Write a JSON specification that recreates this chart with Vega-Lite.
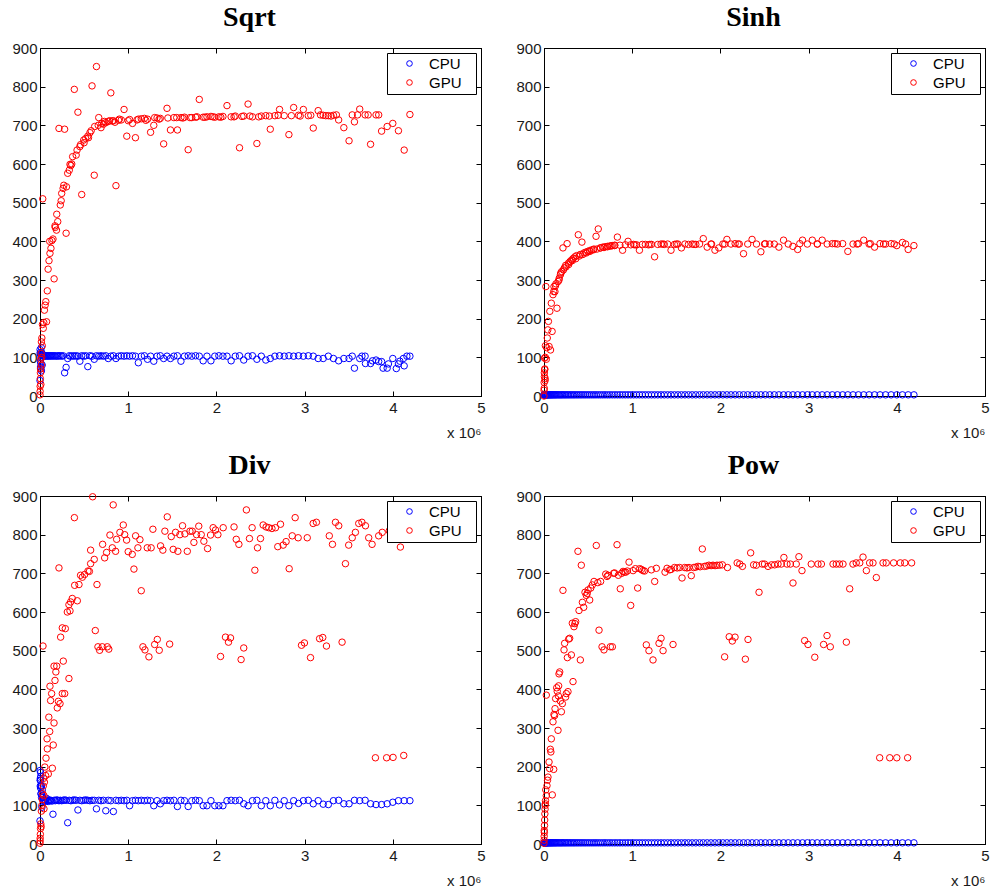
{
"$schema": "https://vega.github.io/schema/vega-lite/v6.json",
"padding": {"left": 11, "top": 3, "right": 5, "bottom": 5},
"bounds": "flush",
"columns": 2,
"spacing": {"row": 100, "column": 63},
"datasets": {
"flat": [{"x":0.000,"y":3},{"x":0.001,"y":3},{"x":0.002,"y":3},{"x":0.004,"y":3},{"x":0.006,"y":3},{"x":0.009,"y":3},{"x":0.013,"y":3},{"x":0.016,"y":3},{"x":0.021,"y":3},{"x":0.026,"y":3},{"x":0.031,"y":3},{"x":0.037,"y":3},{"x":0.043,"y":3},{"x":0.050,"y":3},{"x":0.058,"y":3},{"x":0.066,"y":3},{"x":0.074,"y":3},{"x":0.083,"y":3},{"x":0.092,"y":3},{"x":0.102,"y":3},{"x":0.113,"y":3},{"x":0.124,"y":3},{"x":0.135,"y":3},{"x":0.147,"y":3},{"x":0.160,"y":3},{"x":0.173,"y":3},{"x":0.187,"y":3},{"x":0.201,"y":3},{"x":0.215,"y":3},{"x":0.230,"y":3},{"x":0.246,"y":3},{"x":0.262,"y":3},{"x":0.279,"y":3},{"x":0.296,"y":3},{"x":0.314,"y":3},{"x":0.332,"y":3},{"x":0.350,"y":3},{"x":0.370,"y":3},{"x":0.389,"y":3},{"x":0.410,"y":3},{"x":0.430,"y":3},{"x":0.452,"y":3},{"x":0.473,"y":3},{"x":0.496,"y":3},{"x":0.518,"y":3},{"x":0.542,"y":3},{"x":0.566,"y":3},{"x":0.590,"y":3},{"x":0.615,"y":3},{"x":0.640,"y":3},{"x":0.666,"y":3},{"x":0.692,"y":3},{"x":0.719,"y":3},{"x":0.746,"y":3},{"x":0.774,"y":3},{"x":0.803,"y":3},{"x":0.832,"y":3},{"x":0.861,"y":3},{"x":0.891,"y":3},{"x":0.922,"y":3},{"x":0.953,"y":3},{"x":0.984,"y":3},{"x":1.016,"y":3},{"x":1.049,"y":3},{"x":1.082,"y":3},{"x":1.115,"y":3},{"x":1.149,"y":3},{"x":1.184,"y":3},{"x":1.219,"y":3},{"x":1.254,"y":3},{"x":1.290,"y":3},{"x":1.327,"y":3},{"x":1.364,"y":3},{"x":1.402,"y":3},{"x":1.440,"y":3},{"x":1.479,"y":3},{"x":1.518,"y":3},{"x":1.558,"y":3},{"x":1.598,"y":3},{"x":1.638,"y":3},{"x":1.680,"y":3},{"x":1.721,"y":3},{"x":1.764,"y":3},{"x":1.806,"y":3},{"x":1.850,"y":3},{"x":1.893,"y":3},{"x":1.938,"y":3},{"x":1.982,"y":3},{"x":2.028,"y":3},{"x":2.074,"y":3},{"x":2.120,"y":3},{"x":2.167,"y":3},{"x":2.214,"y":3},{"x":2.262,"y":3},{"x":2.310,"y":3},{"x":2.359,"y":3},{"x":2.409,"y":3},{"x":2.459,"y":3},{"x":2.509,"y":3},{"x":2.560,"y":3},{"x":2.611,"y":3},{"x":2.663,"y":3},{"x":2.716,"y":3},{"x":2.769,"y":3},{"x":2.822,"y":3},{"x":2.876,"y":3},{"x":2.931,"y":3},{"x":2.986,"y":3},{"x":3.042,"y":3},{"x":3.098,"y":3},{"x":3.154,"y":3},{"x":3.211,"y":3},{"x":3.269,"y":3},{"x":3.327,"y":3},{"x":3.386,"y":3},{"x":3.445,"y":3},{"x":3.504,"y":3},{"x":3.565,"y":3},{"x":3.625,"y":3},{"x":3.686,"y":3},{"x":3.748,"y":3},{"x":3.810,"y":3},{"x":3.873,"y":3},{"x":3.936,"y":3},{"x":4.000,"y":3},{"x":4.064,"y":3},{"x":4.129,"y":3},{"x":4.194,"y":3}],
"sqC": [{"x":0.000,"y":40},{"x":0.001,"y":120},{"x":0.002,"y":112},{"x":0.004,"y":108},{"x":0.006,"y":75},{"x":0.009,"y":85},{"x":0.013,"y":100},{"x":0.016,"y":65},{"x":0.021,"y":110},{"x":0.026,"y":106},{"x":0.031,"y":104},{"x":0.037,"y":105},{"x":0.043,"y":104},{"x":0.050,"y":103},{"x":0.058,"y":104},{"x":0.066,"y":104},{"x":0.074,"y":103},{"x":0.083,"y":104},{"x":0.092,"y":104},{"x":0.102,"y":103},{"x":0.113,"y":104},{"x":0.124,"y":104},{"x":0.135,"y":103},{"x":0.147,"y":104},{"x":0.160,"y":104},{"x":0.173,"y":103},{"x":0.187,"y":104},{"x":0.201,"y":103},{"x":0.215,"y":104},{"x":0.230,"y":104},{"x":0.246,"y":103},{"x":0.262,"y":104},{"x":0.279,"y":60},{"x":0.296,"y":74},{"x":0.314,"y":97},{"x":0.332,"y":104},{"x":0.350,"y":103},{"x":0.370,"y":104},{"x":0.389,"y":103},{"x":0.410,"y":104},{"x":0.430,"y":103},{"x":0.452,"y":90},{"x":0.473,"y":104},{"x":0.496,"y":103},{"x":0.518,"y":104},{"x":0.542,"y":76},{"x":0.566,"y":104},{"x":0.590,"y":103},{"x":0.615,"y":95},{"x":0.640,"y":104},{"x":0.666,"y":103},{"x":0.692,"y":104},{"x":0.719,"y":103},{"x":0.746,"y":104},{"x":0.774,"y":97},{"x":0.803,"y":103},{"x":0.832,"y":104},{"x":0.861,"y":97},{"x":0.891,"y":103},{"x":0.922,"y":104},{"x":0.953,"y":103},{"x":0.984,"y":104},{"x":1.016,"y":103},{"x":1.049,"y":104},{"x":1.082,"y":103},{"x":1.115,"y":86},{"x":1.149,"y":103},{"x":1.184,"y":104},{"x":1.219,"y":95},{"x":1.254,"y":103},{"x":1.290,"y":90},{"x":1.327,"y":103},{"x":1.364,"y":104},{"x":1.402,"y":97},{"x":1.440,"y":103},{"x":1.479,"y":97},{"x":1.518,"y":103},{"x":1.558,"y":104},{"x":1.598,"y":90},{"x":1.638,"y":103},{"x":1.680,"y":104},{"x":1.721,"y":103},{"x":1.764,"y":104},{"x":1.806,"y":103},{"x":1.850,"y":91},{"x":1.893,"y":103},{"x":1.938,"y":91},{"x":1.982,"y":103},{"x":2.028,"y":104},{"x":2.074,"y":103},{"x":2.120,"y":103},{"x":2.167,"y":91},{"x":2.214,"y":103},{"x":2.262,"y":104},{"x":2.310,"y":93},{"x":2.359,"y":103},{"x":2.409,"y":104},{"x":2.459,"y":95},{"x":2.509,"y":103},{"x":2.560,"y":93},{"x":2.611,"y":97},{"x":2.663,"y":103},{"x":2.716,"y":104},{"x":2.769,"y":103},{"x":2.822,"y":104},{"x":2.876,"y":103},{"x":2.931,"y":104},{"x":2.986,"y":103},{"x":3.042,"y":104},{"x":3.098,"y":103},{"x":3.154,"y":97},{"x":3.211,"y":97},{"x":3.269,"y":103},{"x":3.327,"y":97},{"x":3.386,"y":91},{"x":3.445,"y":97},{"x":3.504,"y":97},{"x":3.565,"y":72},{"x":3.625,"y":97},{"x":3.686,"y":103},{"x":3.748,"y":84},{"x":3.810,"y":93},{"x":3.873,"y":89},{"x":3.936,"y":72},{"x":4.000,"y":97},{"x":4.064,"y":83},{"x":4.129,"y":78},{"x":4.194,"y":103},{"x":3.540,"y":103},{"x":3.650,"y":103},{"x":3.690,"y":84},{"x":3.770,"y":91},{"x":3.840,"y":89},{"x":3.890,"y":72},{"x":3.950,"y":83},{"x":4.040,"y":71},{"x":4.080,"y":90},{"x":4.120,"y":97},{"x":4.160,"y":103},{"x":0.005,"y":90},{"x":0.010,"y":70},{"x":0.015,"y":125},{"x":0.020,"y":112},{"x":0.025,"y":80}],
"sqG": [{"x":0.000,"y":3},{"x":0.001,"y":12},{"x":0.002,"y":25},{"x":0.004,"y":45},{"x":0.006,"y":70},{"x":0.009,"y":95},{"x":0.013,"y":110},{"x":0.016,"y":140},{"x":0.021,"y":150},{"x":0.026,"y":130},{"x":0.031,"y":510},{"x":0.037,"y":175},{"x":0.043,"y":190},{"x":0.050,"y":222},{"x":0.058,"y":235},{"x":0.066,"y":244},{"x":0.074,"y":192},{"x":0.083,"y":272},{"x":0.092,"y":328},{"x":0.102,"y":350},{"x":0.113,"y":369},{"x":0.124,"y":382},{"x":0.135,"y":402},{"x":0.147,"y":406},{"x":0.160,"y":303},{"x":0.173,"y":436},{"x":0.187,"y":429},{"x":0.201,"y":451},{"x":0.215,"y":692},{"x":0.230,"y":494},{"x":0.246,"y":524},{"x":0.262,"y":537},{"x":0.279,"y":690},{"x":0.296,"y":421},{"x":0.314,"y":576},{"x":0.332,"y":584},{"x":0.350,"y":596},{"x":0.370,"y":619},{"x":0.389,"y":793},{"x":0.410,"y":623},{"x":0.430,"y":734},{"x":0.452,"y":645},{"x":0.473,"y":521},{"x":0.496,"y":662},{"x":0.518,"y":666},{"x":0.542,"y":672},{"x":0.566,"y":681},{"x":0.590,"y":802},{"x":0.615,"y":571},{"x":0.640,"y":852},{"x":0.666,"y":720},{"x":0.692,"y":694},{"x":0.719,"y":703},{"x":0.746,"y":707},{"x":0.774,"y":710},{"x":0.803,"y":784},{"x":0.832,"y":712},{"x":0.861,"y":544},{"x":0.891,"y":713},{"x":0.922,"y":714},{"x":0.953,"y":741},{"x":0.984,"y":672},{"x":1.016,"y":715},{"x":1.049,"y":705},{"x":1.082,"y":668},{"x":1.115,"y":716},{"x":1.149,"y":717},{"x":1.184,"y":718},{"x":1.219,"y":716},{"x":1.254,"y":682},{"x":1.290,"y":700},{"x":1.327,"y":719},{"x":1.364,"y":718},{"x":1.402,"y":652},{"x":1.440,"y":744},{"x":1.479,"y":688},{"x":1.518,"y":720},{"x":1.558,"y":688},{"x":1.598,"y":720},{"x":1.638,"y":721},{"x":1.680,"y":637},{"x":1.721,"y":720},{"x":1.764,"y":721},{"x":1.806,"y":767},{"x":1.850,"y":721},{"x":1.893,"y":722},{"x":1.938,"y":723},{"x":1.982,"y":721},{"x":2.028,"y":722},{"x":2.074,"y":723},{"x":2.120,"y":751},{"x":2.167,"y":722},{"x":2.214,"y":724},{"x":2.262,"y":642},{"x":2.310,"y":724},{"x":2.359,"y":755},{"x":2.409,"y":722},{"x":2.459,"y":653},{"x":2.509,"y":724},{"x":2.560,"y":725},{"x":2.611,"y":690},{"x":2.663,"y":725},{"x":2.716,"y":741},{"x":2.769,"y":725},{"x":2.822,"y":676},{"x":2.876,"y":746},{"x":2.931,"y":726},{"x":2.986,"y":741},{"x":3.042,"y":725},{"x":3.098,"y":693},{"x":3.154,"y":738},{"x":3.211,"y":726},{"x":3.269,"y":725},{"x":3.327,"y":726},{"x":3.386,"y":714},{"x":3.445,"y":694},{"x":3.504,"y":660},{"x":3.565,"y":709},{"x":3.625,"y":742},{"x":3.686,"y":727},{"x":3.748,"y":651},{"x":3.810,"y":727},{"x":3.873,"y":685},{"x":3.936,"y":697},{"x":4.000,"y":705},{"x":4.064,"y":686},{"x":4.129,"y":636},{"x":4.194,"y":728},{"x":0.85,"y":708},{"x":0.9,"y":716},{"x":1.0,"y":712},{"x":1.1,"y":714},{"x":1.2,"y":713},{"x":1.3,"y":720},{"x":1.35,"y":716},{"x":1.45,"y":719},{"x":1.55,"y":720},{"x":1.62,"y":719},{"x":1.7,"y":720},{"x":1.78,"y":722},{"x":1.87,"y":721},{"x":1.96,"y":722},{"x":2.05,"y":721},{"x":2.2,"y":722},{"x":2.29,"y":723},{"x":2.38,"y":724},{"x":2.48,"y":722},{"x":2.6,"y":724},{"x":2.7,"y":726},{"x":2.85,"y":725},{"x":2.95,"y":724},{"x":3.07,"y":726},{"x":3.18,"y":727},{"x":3.24,"y":725},{"x":3.3,"y":724},{"x":3.36,"y":727},{"x":3.54,"y":727},{"x":3.6,"y":727},{"x":3.72,"y":727},{"x":3.84,"y":727},{"x":0.11,"y":400},{"x":0.17,"y":440},{"x":0.19,"y":470},{"x":0.24,"y":505},{"x":0.27,"y":545},{"x":0.3,"y":541},{"x":0.34,"y":599},{"x":0.36,"y":600},{"x":0.42,"y":636},{"x":0.46,"y":650},{"x":0.5,"y":655},{"x":0.55,"y":668},{"x":0.58,"y":686},{"x":0.62,"y":697},{"x":0.66,"y":700},{"x":0.7,"y":705},{"x":0.73,"y":710},{"x":0.79,"y":712},{"x":0.82,"y":711},{"x":0.005,"y":60},{"x":0.01,"y":30},{"x":0.015,"y":80},{"x":0.02,"y":100},{"x":0.028,"y":185}],
"shG": [{"x":0.000,"y":0},{"x":0.001,"y":15},{"x":0.002,"y":35},{"x":0.004,"y":60},{"x":0.006,"y":98},{"x":0.009,"y":70},{"x":0.013,"y":45},{"x":0.016,"y":130},{"x":0.021,"y":283},{"x":0.026,"y":95},{"x":0.031,"y":125},{"x":0.037,"y":150},{"x":0.043,"y":171},{"x":0.050,"y":193},{"x":0.058,"y":128},{"x":0.066,"y":219},{"x":0.074,"y":119},{"x":0.083,"y":240},{"x":0.092,"y":167},{"x":0.102,"y":262},{"x":0.113,"y":283},{"x":0.124,"y":270},{"x":0.135,"y":290},{"x":0.147,"y":227},{"x":0.160,"y":296},{"x":0.173,"y":305},{"x":0.187,"y":314},{"x":0.201,"y":322},{"x":0.215,"y":383},{"x":0.230,"y":331},{"x":0.246,"y":338},{"x":0.262,"y":394},{"x":0.279,"y":344},{"x":0.296,"y":348},{"x":0.314,"y":352},{"x":0.332,"y":356},{"x":0.350,"y":360},{"x":0.370,"y":363},{"x":0.389,"y":417},{"x":0.410,"y":366},{"x":0.430,"y":398},{"x":0.452,"y":370},{"x":0.473,"y":372},{"x":0.496,"y":374},{"x":0.518,"y":376},{"x":0.542,"y":378},{"x":0.566,"y":380},{"x":0.590,"y":413},{"x":0.615,"y":432},{"x":0.640,"y":383},{"x":0.666,"y":385},{"x":0.692,"y":386},{"x":0.719,"y":387},{"x":0.746,"y":388},{"x":0.774,"y":389},{"x":0.803,"y":390},{"x":0.832,"y":411},{"x":0.861,"y":390},{"x":0.891,"y":377},{"x":0.922,"y":391},{"x":0.953,"y":400},{"x":0.984,"y":391},{"x":1.016,"y":392},{"x":1.049,"y":391},{"x":1.082,"y":377},{"x":1.115,"y":392},{"x":1.149,"y":392},{"x":1.184,"y":391},{"x":1.219,"y":392},{"x":1.254,"y":360},{"x":1.290,"y":392},{"x":1.327,"y":393},{"x":1.364,"y":392},{"x":1.402,"y":393},{"x":1.440,"y":377},{"x":1.479,"y":392},{"x":1.518,"y":393},{"x":1.558,"y":383},{"x":1.598,"y":393},{"x":1.638,"y":392},{"x":1.680,"y":393},{"x":1.721,"y":392},{"x":1.764,"y":393},{"x":1.806,"y":407},{"x":1.850,"y":385},{"x":1.893,"y":393},{"x":1.938,"y":377},{"x":1.982,"y":383},{"x":2.028,"y":393},{"x":2.074,"y":405},{"x":2.120,"y":393},{"x":2.167,"y":394},{"x":2.214,"y":393},{"x":2.262,"y":368},{"x":2.310,"y":393},{"x":2.359,"y":405},{"x":2.409,"y":393},{"x":2.459,"y":373},{"x":2.509,"y":394},{"x":2.560,"y":393},{"x":2.611,"y":393},{"x":2.663,"y":385},{"x":2.716,"y":403},{"x":2.769,"y":393},{"x":2.822,"y":387},{"x":2.876,"y":379},{"x":2.931,"y":403},{"x":2.986,"y":393},{"x":3.042,"y":403},{"x":3.098,"y":393},{"x":3.154,"y":403},{"x":3.211,"y":393},{"x":3.269,"y":394},{"x":3.327,"y":393},{"x":3.386,"y":394},{"x":3.445,"y":374},{"x":3.504,"y":393},{"x":3.565,"y":394},{"x":3.625,"y":403},{"x":3.686,"y":393},{"x":3.748,"y":385},{"x":3.810,"y":394},{"x":3.873,"y":393},{"x":3.936,"y":394},{"x":4.000,"y":389},{"x":4.064,"y":397},{"x":4.129,"y":379},{"x":4.194,"y":389},{"x":0.11,"y":270},{"x":0.13,"y":285},{"x":0.17,"y":300},{"x":0.19,"y":318},{"x":0.22,"y":326},{"x":0.25,"y":334},{"x":0.28,"y":340},{"x":0.32,"y":350},{"x":0.36,"y":355},{"x":0.4,"y":362},{"x":0.44,"y":366},{"x":0.48,"y":370},{"x":0.52,"y":374},{"x":0.56,"y":378},{"x":0.6,"y":380},{"x":0.64,"y":383},{"x":0.68,"y":384},{"x":0.72,"y":386},{"x":0.76,"y":388},{"x":0.8,"y":389},{"x":1.03,"y":391},{"x":1.2,"y":392},{"x":1.35,"y":393},{"x":1.5,"y":393},{"x":1.7,"y":392},{"x":1.9,"y":393},{"x":2.05,"y":393},{"x":2.2,"y":393},{"x":2.5,"y":393},{"x":2.9,"y":394},{"x":3.1,"y":393},{"x":3.3,"y":394},{"x":3.55,"y":393},{"x":3.7,"y":394},{"x":3.85,"y":393},{"x":3.97,"y":393},{"x":4.1,"y":393},{"x":0.003,"y":20},{"x":0.005,"y":50},{"x":0.008,"y":68},{"x":0.012,"y":40},{"x":0.015,"y":100}],
"dvC": [{"x":0.000,"y":60},{"x":0.001,"y":190},{"x":0.002,"y":165},{"x":0.004,"y":170},{"x":0.006,"y":145},{"x":0.009,"y":175},{"x":0.013,"y":130},{"x":0.016,"y":150},{"x":0.021,"y":125},{"x":0.026,"y":140},{"x":0.031,"y":120},{"x":0.037,"y":115},{"x":0.043,"y":112},{"x":0.050,"y":110},{"x":0.058,"y":114},{"x":0.066,"y":112},{"x":0.074,"y":118},{"x":0.083,"y":113},{"x":0.092,"y":110},{"x":0.102,"y":114},{"x":0.113,"y":112},{"x":0.124,"y":113},{"x":0.135,"y":111},{"x":0.147,"y":77},{"x":0.160,"y":113},{"x":0.173,"y":112},{"x":0.187,"y":114},{"x":0.201,"y":113},{"x":0.215,"y":112},{"x":0.230,"y":113},{"x":0.246,"y":112},{"x":0.262,"y":113},{"x":0.279,"y":114},{"x":0.296,"y":113},{"x":0.314,"y":55},{"x":0.332,"y":113},{"x":0.350,"y":112},{"x":0.370,"y":113},{"x":0.389,"y":114},{"x":0.410,"y":113},{"x":0.430,"y":88},{"x":0.452,"y":113},{"x":0.473,"y":112},{"x":0.496,"y":113},{"x":0.518,"y":114},{"x":0.542,"y":113},{"x":0.566,"y":112},{"x":0.590,"y":113},{"x":0.615,"y":113},{"x":0.640,"y":91},{"x":0.666,"y":113},{"x":0.692,"y":112},{"x":0.719,"y":113},{"x":0.746,"y":86},{"x":0.774,"y":113},{"x":0.803,"y":112},{"x":0.832,"y":84},{"x":0.861,"y":113},{"x":0.891,"y":112},{"x":0.922,"y":113},{"x":0.953,"y":112},{"x":0.984,"y":113},{"x":1.016,"y":99},{"x":1.049,"y":112},{"x":1.082,"y":113},{"x":1.115,"y":112},{"x":1.149,"y":113},{"x":1.184,"y":112},{"x":1.219,"y":113},{"x":1.254,"y":112},{"x":1.290,"y":99},{"x":1.327,"y":112},{"x":1.364,"y":104},{"x":1.402,"y":112},{"x":1.440,"y":113},{"x":1.479,"y":112},{"x":1.518,"y":113},{"x":1.558,"y":97},{"x":1.598,"y":113},{"x":1.638,"y":112},{"x":1.680,"y":97},{"x":1.721,"y":112},{"x":1.764,"y":113},{"x":1.806,"y":112},{"x":1.850,"y":99},{"x":1.893,"y":99},{"x":1.938,"y":112},{"x":1.982,"y":99},{"x":2.028,"y":99},{"x":2.074,"y":99},{"x":2.120,"y":112},{"x":2.167,"y":113},{"x":2.214,"y":112},{"x":2.262,"y":113},{"x":2.310,"y":104},{"x":2.359,"y":99},{"x":2.409,"y":112},{"x":2.459,"y":113},{"x":2.509,"y":99},{"x":2.560,"y":112},{"x":2.611,"y":99},{"x":2.663,"y":113},{"x":2.716,"y":101},{"x":2.769,"y":112},{"x":2.822,"y":99},{"x":2.876,"y":112},{"x":2.931,"y":105},{"x":2.986,"y":112},{"x":3.042,"y":113},{"x":3.098,"y":104},{"x":3.154,"y":112},{"x":3.211,"y":103},{"x":3.269,"y":102},{"x":3.327,"y":112},{"x":3.386,"y":113},{"x":3.445,"y":104},{"x":3.504,"y":104},{"x":3.565,"y":113},{"x":3.625,"y":112},{"x":3.686,"y":113},{"x":3.748,"y":104},{"x":3.810,"y":102},{"x":3.873,"y":102},{"x":3.936,"y":104},{"x":4.000,"y":108},{"x":4.064,"y":112},{"x":4.129,"y":112},{"x":4.194,"y":112},{"x":0.003,"y":150},{"x":0.005,"y":165},{"x":0.007,"y":185},{"x":0.011,"y":130},{"x":0.014,"y":150},{"x":0.018,"y":120},{"x":0.022,"y":95}],
"dvG": [{"x":0.000,"y":2},{"x":0.001,"y":8},{"x":0.002,"y":15},{"x":0.004,"y":25},{"x":0.006,"y":40},{"x":0.009,"y":52},{"x":0.013,"y":45},{"x":0.016,"y":85},{"x":0.021,"y":100},{"x":0.026,"y":115},{"x":0.031,"y":130},{"x":0.034,"y":512},{"x":0.037,"y":150},{"x":0.043,"y":170},{"x":0.045,"y":91},{"x":0.050,"y":160},{"x":0.055,"y":199},{"x":0.045,"y":125},{"x":0.064,"y":177},{"x":0.068,"y":222},{"x":0.083,"y":246},{"x":0.080,"y":272},{"x":0.110,"y":291},{"x":0.094,"y":181},{"x":0.100,"y":328},{"x":0.140,"y":196},{"x":0.150,"y":256},{"x":0.159,"y":313},{"x":0.120,"y":371},{"x":0.132,"y":389},{"x":0.113,"y":408},{"x":0.170,"y":423},{"x":0.180,"y":445},{"x":0.159,"y":460},{"x":0.190,"y":460},{"x":0.196,"y":352},{"x":0.208,"y":369},{"x":0.227,"y":363},{"x":0.253,"y":389},{"x":0.280,"y":389},{"x":0.264,"y":473},{"x":0.328,"y":428},{"x":0.234,"y":535},{"x":0.253,"y":559},{"x":0.287,"y":557},{"x":0.310,"y":600},{"x":0.340,"y":603},{"x":0.347,"y":626},{"x":0.366,"y":635},{"x":0.423,"y":629},{"x":0.328,"y":619},{"x":0.393,"y":669},{"x":0.442,"y":671},{"x":0.460,"y":695},{"x":0.506,"y":697},{"x":0.544,"y":706},{"x":0.574,"y":725},{"x":0.615,"y":736},{"x":0.560,"y":705},{"x":0.480,"y":690},{"x":0.574,"y":760},{"x":0.390,"y":844},{"x":0.215,"y":714},{"x":0.597,"y":898},{"x":0.830,"y":877},{"x":0.646,"y":671},{"x":0.627,"y":552},{"x":0.657,"y":510},{"x":0.676,"y":501},{"x":0.706,"y":510},{"x":0.763,"y":510},{"x":0.780,"y":504},{"x":0.710,"y":775},{"x":0.733,"y":740},{"x":0.755,"y":754},{"x":0.793,"y":799},{"x":0.820,"y":766},{"x":0.857,"y":757},{"x":0.869,"y":788},{"x":0.906,"y":806},{"x":0.944,"y":825},{"x":0.960,"y":800},{"x":0.982,"y":786},{"x":1.000,"y":756},{"x":1.046,"y":749},{"x":1.065,"y":711},{"x":1.084,"y":797},{"x":1.110,"y":766},{"x":1.133,"y":787},{"x":1.148,"y":655},{"x":1.167,"y":510},{"x":1.190,"y":502},{"x":1.235,"y":484},{"x":1.216,"y":766},{"x":1.260,"y":766},{"x":1.280,"y":814},{"x":1.300,"y":516},{"x":1.330,"y":529},{"x":1.352,"y":501},{"x":1.367,"y":771},{"x":1.393,"y":760},{"x":1.416,"y":809},{"x":1.443,"y":846},{"x":1.470,"y":517},{"x":1.488,"y":795},{"x":1.510,"y":762},{"x":1.537,"y":806},{"x":1.563,"y":757},{"x":1.586,"y":800},{"x":1.616,"y":823},{"x":1.643,"y":802},{"x":1.670,"y":757},{"x":1.700,"y":809},{"x":1.726,"y":809},{"x":1.745,"y":780},{"x":1.775,"y":800},{"x":1.800,"y":822},{"x":1.828,"y":800},{"x":1.858,"y":783},{"x":1.900,"y":764},{"x":1.934,"y":799},{"x":1.963,"y":818},{"x":1.990,"y":812},{"x":2.017,"y":800},{"x":2.047,"y":485},{"x":2.077,"y":818},{"x":2.103,"y":535},{"x":2.137,"y":522},{"x":2.160,"y":533},{"x":2.200,"y":820},{"x":2.225,"y":788},{"x":2.255,"y":775},{"x":2.280,"y":477},{"x":2.310,"y":507},{"x":2.340,"y":864},{"x":2.375,"y":790},{"x":2.405,"y":818},{"x":2.436,"y":708},{"x":2.466,"y":766},{"x":2.500,"y":790},{"x":2.530,"y":825},{"x":2.564,"y":820},{"x":2.594,"y":818},{"x":2.630,"y":816},{"x":2.670,"y":818},{"x":2.696,"y":769},{"x":2.727,"y":827},{"x":2.757,"y":773},{"x":2.790,"y":782},{"x":2.825,"y":712},{"x":2.860,"y":797},{"x":2.893,"y":844},{"x":2.927,"y":792},{"x":2.965,"y":514},{"x":2.998,"y":520},{"x":3.030,"y":792},{"x":3.067,"y":482},{"x":3.097,"y":829},{"x":3.134,"y":832},{"x":3.170,"y":531},{"x":3.206,"y":534},{"x":3.248,"y":512},{"x":3.280,"y":797},{"x":3.316,"y":775},{"x":3.350,"y":832},{"x":3.387,"y":823},{"x":3.425,"y":522},{"x":3.463,"y":725},{"x":3.500,"y":773},{"x":3.540,"y":792},{"x":3.576,"y":806},{"x":3.614,"y":829},{"x":3.650,"y":832},{"x":3.690,"y":823},{"x":3.727,"y":792},{"x":3.765,"y":775},{"x":3.803,"y":223},{"x":3.840,"y":797},{"x":3.880,"y":806},{"x":3.930,"y":223},{"x":3.960,"y":810},{"x":4.003,"y":224},{"x":4.040,"y":805},{"x":4.086,"y":768},{"x":4.124,"y":229}],
"pwG": [{"x":0.000,"y":2},{"x":0.001,"y":10},{"x":0.002,"y":20},{"x":0.003,"y":35},{"x":0.004,"y":30},{"x":0.006,"y":48},{"x":0.008,"y":62},{"x":0.010,"y":78},{"x":0.012,"y":90},{"x":0.014,"y":100},{"x":0.015,"y":104},{"x":0.017,"y":112},{"x":0.020,"y":140},{"x":0.026,"y":385},{"x":0.026,"y":125},{"x":0.034,"y":151},{"x":0.040,"y":165},{"x":0.045,"y":173},{"x":0.057,"y":212},{"x":0.064,"y":195},{"x":0.072,"y":245},{"x":0.078,"y":238},{"x":0.083,"y":272},{"x":0.094,"y":127},{"x":0.102,"y":316},{"x":0.110,"y":193},{"x":0.113,"y":335},{"x":0.120,"y":332},{"x":0.125,"y":350},{"x":0.132,"y":376},{"x":0.144,"y":404},{"x":0.150,"y":395},{"x":0.159,"y":294},{"x":0.163,"y":383},{"x":0.166,"y":409},{"x":0.170,"y":440},{"x":0.178,"y":445},{"x":0.185,"y":370},{"x":0.197,"y":342},{"x":0.208,"y":363},{"x":0.215,"y":656},{"x":0.227,"y":502},{"x":0.234,"y":519},{"x":0.245,"y":380},{"x":0.253,"y":389},{"x":0.265,"y":482},{"x":0.272,"y":394},{"x":0.280,"y":530},{"x":0.291,"y":532},{"x":0.310,"y":489},{"x":0.321,"y":571},{"x":0.329,"y":420},{"x":0.340,"y":562},{"x":0.350,"y":570},{"x":0.359,"y":575},{"x":0.385,"y":757},{"x":0.397,"y":604},{"x":0.412,"y":476},{"x":0.423,"y":721},{"x":0.435,"y":625},{"x":0.450,"y":612},{"x":0.465,"y":651},{"x":0.480,"y":643},{"x":0.490,"y":648},{"x":0.500,"y":657},{"x":0.518,"y":631},{"x":0.530,"y":662},{"x":0.548,"y":670},{"x":0.567,"y":679},{"x":0.593,"y":772},{"x":0.610,"y":676},{"x":0.624,"y":553},{"x":0.642,"y":679},{"x":0.658,"y":510},{"x":0.680,"y":502},{"x":0.700,"y":698},{"x":0.715,"y":692},{"x":0.726,"y":695},{"x":0.752,"y":510},{"x":0.775,"y":510},{"x":0.790,"y":700},{"x":0.800,"y":701},{"x":0.828,"y":774},{"x":0.843,"y":695},{"x":0.865,"y":660},{"x":0.880,"y":700},{"x":0.896,"y":705},{"x":0.910,"y":703},{"x":0.926,"y":703},{"x":0.945,"y":706},{"x":0.964,"y":729},{"x":0.983,"y":617},{"x":1.010,"y":707},{"x":1.036,"y":712},{"x":1.062,"y":662},{"x":1.085,"y":712},{"x":1.105,"y":710},{"x":1.122,"y":707},{"x":1.140,"y":706},{"x":1.160,"y":515},{"x":1.190,"y":500},{"x":1.217,"y":709},{"x":1.236,"y":476},{"x":1.255,"y":679},{"x":1.274,"y":713},{"x":1.304,"y":519},{"x":1.327,"y":532},{"x":1.350,"y":500},{"x":1.372,"y":703},{"x":1.395,"y":713},{"x":1.425,"y":709},{"x":1.440,"y":710},{"x":1.463,"y":516},{"x":1.480,"y":715},{"x":1.510,"y":714},{"x":1.538,"y":715},{"x":1.565,"y":688},{"x":1.595,"y":715},{"x":1.620,"y":714},{"x":1.644,"y":715},{"x":1.670,"y":694},{"x":1.697,"y":715},{"x":1.720,"y":716},{"x":1.746,"y":718},{"x":1.770,"y":717},{"x":1.795,"y":763},{"x":1.820,"y":718},{"x":1.845,"y":719},{"x":1.870,"y":721},{"x":1.895,"y":720},{"x":1.916,"y":721},{"x":1.940,"y":720},{"x":1.961,"y":721},{"x":1.990,"y":721},{"x":2.022,"y":722},{"x":2.048,"y":484},{"x":2.080,"y":715},{"x":2.100,"y":536},{"x":2.135,"y":525},{"x":2.166,"y":535},{"x":2.190,"y":727},{"x":2.220,"y":724},{"x":2.250,"y":718},{"x":2.283,"y":478},{"x":2.313,"y":529},{"x":2.343,"y":753},{"x":2.377,"y":722},{"x":2.407,"y":721},{"x":2.438,"y":651},{"x":2.475,"y":724},{"x":2.500,"y":724},{"x":2.540,"y":718},{"x":2.580,"y":722},{"x":2.615,"y":722},{"x":2.653,"y":724},{"x":2.690,"y":724},{"x":2.720,"y":741},{"x":2.755,"y":724},{"x":2.793,"y":724},{"x":2.823,"y":675},{"x":2.860,"y":724},{"x":2.890,"y":743},{"x":2.925,"y":707},{"x":2.955,"y":526},{"x":2.993,"y":516},{"x":3.030,"y":724},{"x":3.070,"y":483},{"x":3.106,"y":724},{"x":3.145,"y":724},{"x":3.170,"y":516},{"x":3.209,"y":539},{"x":3.246,"y":510},{"x":3.277,"y":724},{"x":3.314,"y":724},{"x":3.350,"y":724},{"x":3.390,"y":724},{"x":3.428,"y":522},{"x":3.466,"y":660},{"x":3.503,"y":724},{"x":3.540,"y":727},{"x":3.580,"y":727},{"x":3.617,"y":742},{"x":3.655,"y":707},{"x":3.692,"y":727},{"x":3.730,"y":727},{"x":3.768,"y":689},{"x":3.806,"y":223},{"x":3.844,"y":727},{"x":3.880,"y":727},{"x":3.920,"y":223},{"x":3.964,"y":727},{"x":4.000,"y":223},{"x":4.040,"y":727},{"x":4.090,"y":727},{"x":4.123,"y":223},{"x":4.168,"y":727}]
},
"concat": [
{"width": 441, "height": 348, "title": "Sqrt",
 "layer": [
  {"data": {"name": "sqC"}, "mark": {"type": "point", "shape": "circle", "filled": false, "size": 42, "strokeWidth": 1, "opacity": 1},
   "encoding": {"x": {"field": "x", "type": "quantitative", "scale": {"domain": [0, 5], "nice": false}, "axis": {"values": [0,1,2,3,4,5], "format": "d", "title": "x 10⁶", "titleAnchor": "end", "titlePadding": 10}},
    "y": {"field": "y", "type": "quantitative", "scale": {"domain": [0, 900], "nice": false}, "axis": {"values": [0,100,200,300,400,500,600,700,800,900], "format": "d", "title": null}},
    "color": {"datum": "CPU", "type": "nominal", "scale": {"domain": ["CPU", "GPU"], "range": ["#0000ff", "#ff0000"]}, "legend": {"title": null, "labelExpr": "datum.label + '\u2800'"}}}},
  {"data": {"name": "sqG"}, "mark": {"type": "point", "shape": "circle", "filled": false, "size": 42, "strokeWidth": 1, "opacity": 1},
   "encoding": {"x": {"field": "x", "type": "quantitative", "scale": {"domain": [0, 5], "nice": false}, "axis": {"orient": "top", "values": [0,1,2,3,4,5], "labels": false, "title": null}},
    "y": {"field": "y", "type": "quantitative", "scale": {"domain": [0, 900], "nice": false}, "axis": {"orient": "right", "values": [0,100,200,300,400,500,600,700,800,900], "labels": false, "title": null}},
    "color": {"datum": "GPU", "type": "nominal", "scale": {"domain": ["CPU", "GPU"], "range": ["#0000ff", "#ff0000"]}, "legend": {"title": null, "labelExpr": "datum.label + '\u2800'"}}}}
 ],
 "resolve": {"axis": {"x": "independent", "y": "independent"}}},
{"width": 441, "height": 348, "title": "Sinh",
 "layer": [
  {"data": {"name": "flat"}, "mark": {"type": "point", "shape": "circle", "filled": false, "size": 42, "strokeWidth": 1, "opacity": 1},
   "encoding": {"x": {"field": "x", "type": "quantitative", "scale": {"domain": [0, 5], "nice": false}, "axis": {"values": [0,1,2,3,4,5], "format": "d", "title": "x 10⁶", "titleAnchor": "end", "titlePadding": 10}},
    "y": {"field": "y", "type": "quantitative", "scale": {"domain": [0, 900], "nice": false}, "axis": {"values": [0,100,200,300,400,500,600,700,800,900], "format": "d", "title": null}},
    "color": {"datum": "CPU", "type": "nominal", "scale": {"domain": ["CPU", "GPU"], "range": ["#0000ff", "#ff0000"]}, "legend": {"title": null, "labelExpr": "datum.label + '\u2800'"}}}},
  {"data": {"name": "shG"}, "mark": {"type": "point", "shape": "circle", "filled": false, "size": 42, "strokeWidth": 1, "opacity": 1},
   "encoding": {"x": {"field": "x", "type": "quantitative", "scale": {"domain": [0, 5], "nice": false}, "axis": {"orient": "top", "values": [0,1,2,3,4,5], "labels": false, "title": null}},
    "y": {"field": "y", "type": "quantitative", "scale": {"domain": [0, 900], "nice": false}, "axis": {"orient": "right", "values": [0,100,200,300,400,500,600,700,800,900], "labels": false, "title": null}},
    "color": {"datum": "GPU", "type": "nominal", "scale": {"domain": ["CPU", "GPU"], "range": ["#0000ff", "#ff0000"]}, "legend": {"title": null, "labelExpr": "datum.label + '\u2800'"}}}}
 ],
 "resolve": {"axis": {"x": "independent", "y": "independent"}}},
{"width": 441, "height": 348, "title": "Div",
 "layer": [
  {"data": {"name": "dvC"}, "mark": {"type": "point", "shape": "circle", "filled": false, "size": 42, "strokeWidth": 1, "opacity": 1},
   "encoding": {"x": {"field": "x", "type": "quantitative", "scale": {"domain": [0, 5], "nice": false}, "axis": {"values": [0,1,2,3,4,5], "format": "d", "title": "x 10⁶", "titleAnchor": "end", "titlePadding": 10}},
    "y": {"field": "y", "type": "quantitative", "scale": {"domain": [0, 900], "nice": false}, "axis": {"values": [0,100,200,300,400,500,600,700,800,900], "format": "d", "title": null}},
    "color": {"datum": "CPU", "type": "nominal", "scale": {"domain": ["CPU", "GPU"], "range": ["#0000ff", "#ff0000"]}, "legend": {"title": null, "labelExpr": "datum.label + '\u2800'"}}}},
  {"data": {"name": "dvG"}, "mark": {"type": "point", "shape": "circle", "filled": false, "size": 42, "strokeWidth": 1, "opacity": 1},
   "encoding": {"x": {"field": "x", "type": "quantitative", "scale": {"domain": [0, 5], "nice": false}, "axis": {"orient": "top", "values": [0,1,2,3,4,5], "labels": false, "title": null}},
    "y": {"field": "y", "type": "quantitative", "scale": {"domain": [0, 900], "nice": false}, "axis": {"orient": "right", "values": [0,100,200,300,400,500,600,700,800,900], "labels": false, "title": null}},
    "color": {"datum": "GPU", "type": "nominal", "scale": {"domain": ["CPU", "GPU"], "range": ["#0000ff", "#ff0000"]}, "legend": {"title": null, "labelExpr": "datum.label + '\u2800'"}}}}
 ],
 "resolve": {"axis": {"x": "independent", "y": "independent"}}},
{"width": 441, "height": 348, "title": "Pow",
 "layer": [
  {"data": {"name": "flat"}, "mark": {"type": "point", "shape": "circle", "filled": false, "size": 42, "strokeWidth": 1, "opacity": 1},
   "encoding": {"x": {"field": "x", "type": "quantitative", "scale": {"domain": [0, 5], "nice": false}, "axis": {"values": [0,1,2,3,4,5], "format": "d", "title": "x 10⁶", "titleAnchor": "end", "titlePadding": 10}},
    "y": {"field": "y", "type": "quantitative", "scale": {"domain": [0, 900], "nice": false}, "axis": {"values": [0,100,200,300,400,500,600,700,800,900], "format": "d", "title": null}},
    "color": {"datum": "CPU", "type": "nominal", "scale": {"domain": ["CPU", "GPU"], "range": ["#0000ff", "#ff0000"]}, "legend": {"title": null, "labelExpr": "datum.label + '\u2800'"}}}},
  {"data": {"name": "pwG"}, "mark": {"type": "point", "shape": "circle", "filled": false, "size": 42, "strokeWidth": 1, "opacity": 1},
   "encoding": {"x": {"field": "x", "type": "quantitative", "scale": {"domain": [0, 5], "nice": false}, "axis": {"orient": "top", "values": [0,1,2,3,4,5], "labels": false, "title": null}},
    "y": {"field": "y", "type": "quantitative", "scale": {"domain": [0, 900], "nice": false}, "axis": {"orient": "right", "values": [0,100,200,300,400,500,600,700,800,900], "labels": false, "title": null}},
    "color": {"datum": "GPU", "type": "nominal", "scale": {"domain": ["CPU", "GPU"], "range": ["#0000ff", "#ff0000"]}, "legend": {"title": null, "labelExpr": "datum.label + '\u2800'"}}}}
 ],
 "resolve": {"axis": {"x": "independent", "y": "independent"}}}
],
"resolve": {"scale": {"color": "independent"}, "legend": {"color": "independent"}},
"config": {
 "view": {"stroke": "black", "strokeWidth": 1},
 "font": "Liberation Sans",
 "axis": {"domainColor": "black", "domainWidth": 1, "tickColor": "black", "tickWidth": 1, "tickSize": -5, "labelPadding": 8, "labelFont": "Liberation Sans", "labelFontSize": 15, "labelColor": "#1a1a1a", "grid": false, "labelFlush": false, "labelOverlap": false, "titleFont": "Liberation Sans", "titleFontWeight": "normal", "titleFontSize": 15, "titleColor": "#1a1a1a"},
 "axisX": {"labelPadding": 9},
 "title": {"font": "Liberation Serif", "fontSize": 28, "fontWeight": "bold", "color": "black", "dx": -11, "offset": 9, "baseline": "alphabetic", "anchor": "middle"},
 "legend": {"orient": "top-right", "offset": 5, "padding": 3, "strokeColor": "black", "fillColor": "white", "symbolSize": 32, "symbolStrokeWidth": 1, "labelFont": "Liberation Sans", "labelFontSize": 15, "labelColor": "black", "symbolOffset": 12, "labelOffset": 12, "rowPadding": 3, "cornerRadius": 0}
}
}
